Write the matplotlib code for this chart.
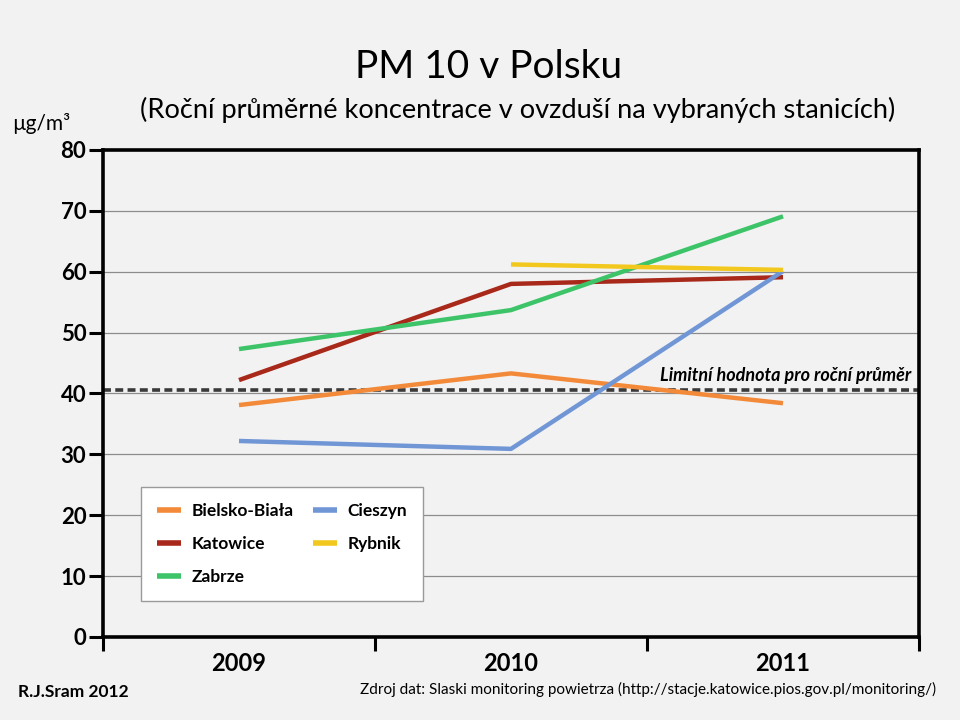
import numpy as np
import matplotlib
matplotlib.use("Agg")
import matplotlib.pyplot as plt

plt.rcParams['font.family'] = ['Lato', 'DejaVu Sans']

# -----------------------
# DATA
# -----------------------
years = ["2009", "2010", "2011"]
bielsko = [38.1, 43.3, 38.4]
katowice = [42.2, 58.0, 59.1]
zabrze = [47.3, 53.7, 69.1]
cieszyn = [32.2, 30.9, 60.1]
rybnik = [np.nan, 61.2, 60.3]
limit_value = 40.6
y_ticks = [0, 10, 20, 30, 40, 50, 60, 70, 80]

series = [
    ("Bielsko-Biała", bielsko, "#F28A3A"),
    ("Katowice", katowice, "#A8281A"),
    ("Zabrze", zabrze, "#3DC468"),
    ("Cieszyn", cieszyn, "#7096D6"),
    ("Rybnik", rybnik, "#F2C81E"),
]

bg = "#F2F2F2"
fig = plt.figure(figsize=(9.6, 7.2), dpi=100, facecolor=bg)
ax = fig.add_axes([0.1073, 0.1153, 0.8500, 0.6764], facecolor=bg)

x = np.arange(len(years))

# gridlines
for v in y_ticks[1:-1]:
    ax.axhline(v, color="#8C8C8C", lw=0.9, zorder=1)

# limit line
ax.axhline(limit_value, color="#3A3A3A", lw=2.6, ls=(0, (2.2, 1.2)), zorder=2)
ax.text(2.47, limit_value + 1.0, "Limitní hodnota pro roční průměr", ha="right", va="bottom",
        fontsize=13, fontweight="bold", style="italic")

for name, vals, col in series:
    ax.plot(x, vals, color=col, lw=3.2, label=name, zorder=3, solid_capstyle="butt")

ax.set_xlim(-0.5, 2.5)
ax.set_ylim(0, 80)

ax.set_yticks(y_ticks)
ax.set_yticklabels([str(v) for v in y_ticks], fontsize=16, fontweight="bold")
ax.tick_params(axis="y", direction="out", length=10, width=2.2, pad=2)

ax.set_xticks([-0.5, 0.5, 1.5, 2.5])
ax.set_xticklabels([])
ax.tick_params(axis="x", which="major", direction="out", length=10, width=2.2)
ax.set_xticks(x, minor=True)
ax.set_xticklabels(years, minor=True, fontsize=17, fontweight="bold")
ax.tick_params(axis="x", which="minor", length=0, pad=11)

for s in ax.spines.values():
    s.set_color("black")
    s.set_linewidth(2.6)

leg = ax.legend(ncol=2, loc="upper left", bbox_to_anchor=(0.047, 0.308), borderaxespad=0,
                prop={"weight": "bold", "size": 12.5}, frameon=True, fancybox=False,
                handlelength=1.4, handletextpad=0.6, labelspacing=1.0, columnspacing=1.1,
                borderpad=0.9)
leg.get_frame().set_facecolor("white")
leg.get_frame().set_edgecolor("#9A9A9A")
leg.get_frame().set_alpha(1)
for h in leg.get_lines():
    h.set_linewidth(4)

# texts
fig.text(0.509, 0.907, "PM 10 v Polsku", ha="center", va="center", fontsize=28)
fig.text(0.539, 0.847, "(Roční průměrné koncentrace v ovzduší na vybraných stanicích)",
         ha="center", va="center", fontsize=19.6)
fig.text(0.0125, 0.829, "µg/m³", ha="left", va="center", fontsize=15)
fig.text(0.019, 0.039, "R.J.Sram 2012", ha="left", va="center", fontsize=12.5, fontweight="bold")
fig.text(0.975, 0.043, "Zdroj dat: Slaski monitoring powietrza (http://stacje.katowice.pios.gov.pl/monitoring/)",
         ha="right", va="center", fontsize=11)

fig.savefig("out.png", dpi=100, facecolor=bg)
